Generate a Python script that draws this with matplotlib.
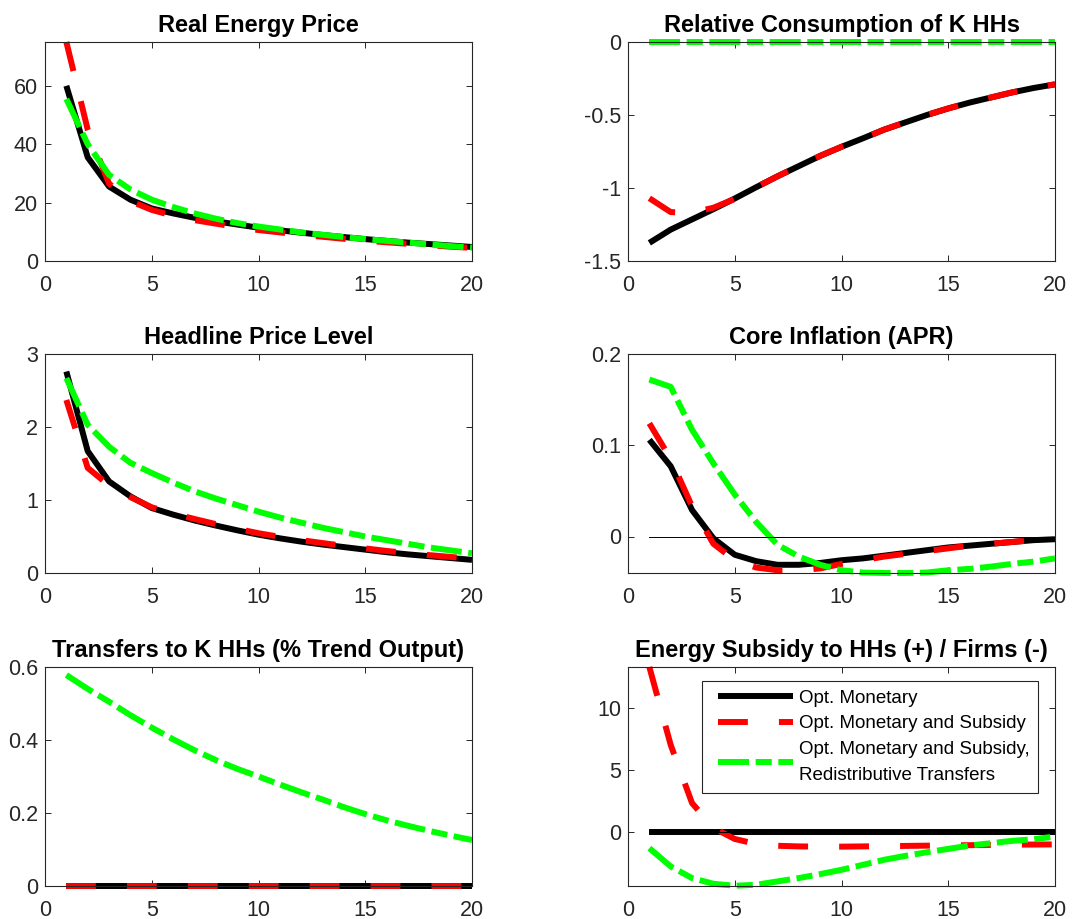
import matplotlib
matplotlib.use("Agg")
import matplotlib.pyplot as plt
from matplotlib.legend_handler import HandlerLine2D

plt.rcParams["font.family"] = ["Liberation Sans", "DejaVu Sans"]
plt.rcParams["axes.unicode_minus"] = False

periods = list(range(1, 21))

# Real Energy Price
energy_opt = [60, 35.5, 25.5, 21, 18, 16.3, 14.8, 13.6, 12.5, 11.4,
              10.5, 9.7, 8.9, 8.2, 7.5, 6.9, 6.3, 5.8, 5.3, 4.8]
energy_sub = [75, 45, 26.5, 20.5, 17.5, 15.5, 14, 12.8, 11.6, 10.6,
              9.8, 9.0, 8.3, 7.6, 7.0, 6.4, 5.9, 5.4, 4.9, 4.5]
energy_red = [55.5, 40, 29.5, 24.5, 21, 18.5, 16.3, 14.5, 13, 11.8,
              10.8, 9.8, 9.0, 8.2, 7.5, 6.9, 6.3, 5.7, 5.1, 4.6]

# Relative Consumption of K HHs
cons_opt = [-1.376, -1.285, -1.215, -1.145, -1.072, -0.995, -0.92, -0.85, -0.78, -0.718,
            -0.66, -0.60, -0.55, -0.50, -0.455, -0.415, -0.38, -0.345, -0.315, -0.29]
cons_sub = [-1.07, -1.165, -1.17, -1.135, -1.075, -0.995, -0.92, -0.85, -0.78, -0.718,
            -0.66, -0.60, -0.55, -0.50, -0.455, -0.415, -0.38, -0.345, -0.315, -0.29]
cons_red = [0.0] * 20

# Headline Price Level
price_opt = [2.76, 1.67, 1.255, 1.05, 0.89, 0.80, 0.72, 0.65, 0.585, 0.525,
             0.475, 0.43, 0.39, 0.355, 0.32, 0.285, 0.255, 0.23, 0.205, 0.18]
price_sub = [2.37, 1.44, 1.2, 1.04, 0.9, 0.815, 0.74, 0.67, 0.605, 0.545,
             0.495, 0.45, 0.41, 0.372, 0.337, 0.302, 0.272, 0.245, 0.22, 0.195]
price_red = [2.67, 2.03, 1.73, 1.51, 1.37, 1.24, 1.12, 1.02, 0.93, 0.84,
             0.76, 0.69, 0.62, 0.56, 0.50, 0.45, 0.40, 0.35, 0.31, 0.27]

# Core Inflation (APR)
infl_opt = [0.106, 0.077, 0.029, -0.002, -0.020, -0.027, -0.031, -0.031, -0.029, -0.026,
            -0.024, -0.021, -0.018, -0.015, -0.012, -0.010, -0.008, -0.006, -0.004, -0.003]
infl_sub = [0.124, 0.085, 0.033, -0.008, -0.026, -0.034, -0.037, -0.037, -0.035, -0.030,
            -0.026, -0.022, -0.019, -0.016, -0.013, -0.010, -0.008, -0.006, -0.004, -0.003]
infl_red = [0.172, 0.164, 0.117, 0.080, 0.046, 0.016, -0.009, -0.022, -0.031, -0.037,
            -0.0395, -0.040, -0.040, -0.0395, -0.037, -0.0355, -0.033, -0.030, -0.0275, -0.024]

# Transfers to K HHs
trans_opt = [0.0] * 20
trans_sub = [0.0] * 20
trans_red = [0.578, 0.54, 0.505, 0.468, 0.434, 0.402, 0.372, 0.345, 0.321, 0.30,
             0.278, 0.257, 0.237, 0.216, 0.197, 0.18, 0.165, 0.151, 0.138, 0.126]

# Energy Subsidy to HHs (+) / Firms (-)
subs_opt = [0.0] * 20
subs_sub = [13.3, 7.0, 2.3, 0.3, -0.6, -1.0, -1.15, -1.2, -1.22, -1.22,
            -1.2, -1.18, -1.16, -1.14, -1.12, -1.10, -1.08, -1.06, -1.05, -1.04]
subs_red = [-1.34, -2.82, -3.76, -4.22, -4.38, -4.3, -4.03, -3.76, -3.44, -3.09,
            -2.69, -2.28, -1.96, -1.67, -1.40, -1.13, -0.94, -0.75, -0.62, -0.40]

labels = ["Opt. Monetary", "Opt. Monetary and Subsidy",
          "Opt. Monetary and Subsidy,\nRedistributive Transfers"]

panels = [
    ("Real Energy Price", energy_opt, energy_sub, energy_red, (0, 75),
     [0, 20, 40, 60], ["0", "20", "40", "60"]),
    ("Relative Consumption of K HHs", cons_opt, cons_sub, cons_red, (-1.5, 0),
     [-1.5, -1, -0.5, 0], ["-1.5", "-1", "-0.5", "0"]),
    ("Headline Price Level", price_opt, price_sub, price_red, (0, 3),
     [0, 1, 2, 3], ["0", "1", "2", "3"]),
    ("Core Inflation (APR)", infl_opt, infl_sub, infl_red, (-0.04, 0.2),
     [0, 0.1, 0.2], ["0", "0.1", "0.2"]),
    ("Transfers to K HHs (% Trend Output)", trans_opt, trans_sub, trans_red, (0, 0.6),
     [0, 0.2, 0.4, 0.6], ["0", "0.2", "0.4", "0.6"]),
    ("Energy Subsidy to HHs (+) / Firms (-)", subs_opt, subs_sub, subs_red, (-4.4, 13.3),
     [0, 5, 10], ["0", "5", "10"]),
]


class PaddedLine(HandlerLine2D):
    # leave a little blank space before the legend line, like MATLAB does
    def get_xdata(self, legend, xdescent, ydescent, width, height, fontsize):
        pad = 0.38 * fontsize
        return [-xdescent + pad, -xdescent + width], [-xdescent + 0.5 * width]


W, H = 1089, 919
lefts = [45, 628]
tops = [42, 354, 667]
aw, ah = 427, 219

fig = plt.figure(figsize=(W / 100, H / 100), dpi=100)
lw = 4.3
axcol = "#262626"

for i, (title, opt, sub, red, ylim, yt, ytl) in enumerate(panels):
    r, c = divmod(i, 2)
    ax = fig.add_axes([lefts[c] / W, 1 - (tops[r] + ah) / H, aw / W, ah / H])
    l1, = ax.plot(periods, opt, color="black", lw=lw, clip_on=False,
                  solid_capstyle="butt")
    l2, = ax.plot(periods, sub, color="#ff0000", lw=lw, clip_on=False,
                  dashes=(5.0, 5.2))
    l3, = ax.plot(periods, red, color="#00ff00", lw=lw, clip_on=False,
                  dashes=(5.2, 1.1, 2.7, 1.1))
    ax.plot(periods, [0] * len(periods), color="black", lw=0.7)
    ax.set_xlim(0, 20)
    ax.set_ylim(*ylim)
    ax.set_xticks([0, 5, 10, 15, 20])
    ax.set_yticks(yt)
    ax.set_yticklabels(ytl)
    ax.tick_params(direction="in", length=4, width=0.7, colors=axcol,
                   labelsize=15.5, top=True, right=True)
    ax.tick_params(axis="y", pad=5)
    ax.tick_params(axis="x", pad=10)
    for s in ax.spines.values():
        s.set_color(axcol)
        s.set_linewidth(0.8)
    ax.set_title(title, fontsize=17, fontweight="bold", pad=7)
    if i == 5:
        leg = ax.legend([l1, l2, l3], labels, loc="upper right",
                        bbox_to_anchor=(0.96, 0.936), borderaxespad=0,
                        fontsize=13.5, handlelength=4.37, handletextpad=0.32,
                        borderpad=0.45, labelspacing=0.45, fancybox=False,
                        framealpha=1, edgecolor=axcol,
                        handler_map={l1: PaddedLine(), l2: PaddedLine(),
                                     l3: PaddedLine()})
        leg.get_frame().set_linewidth(0.8)
        leg.texts[2].set_linespacing(1.75)

fig.savefig("out.png", dpi=100)
